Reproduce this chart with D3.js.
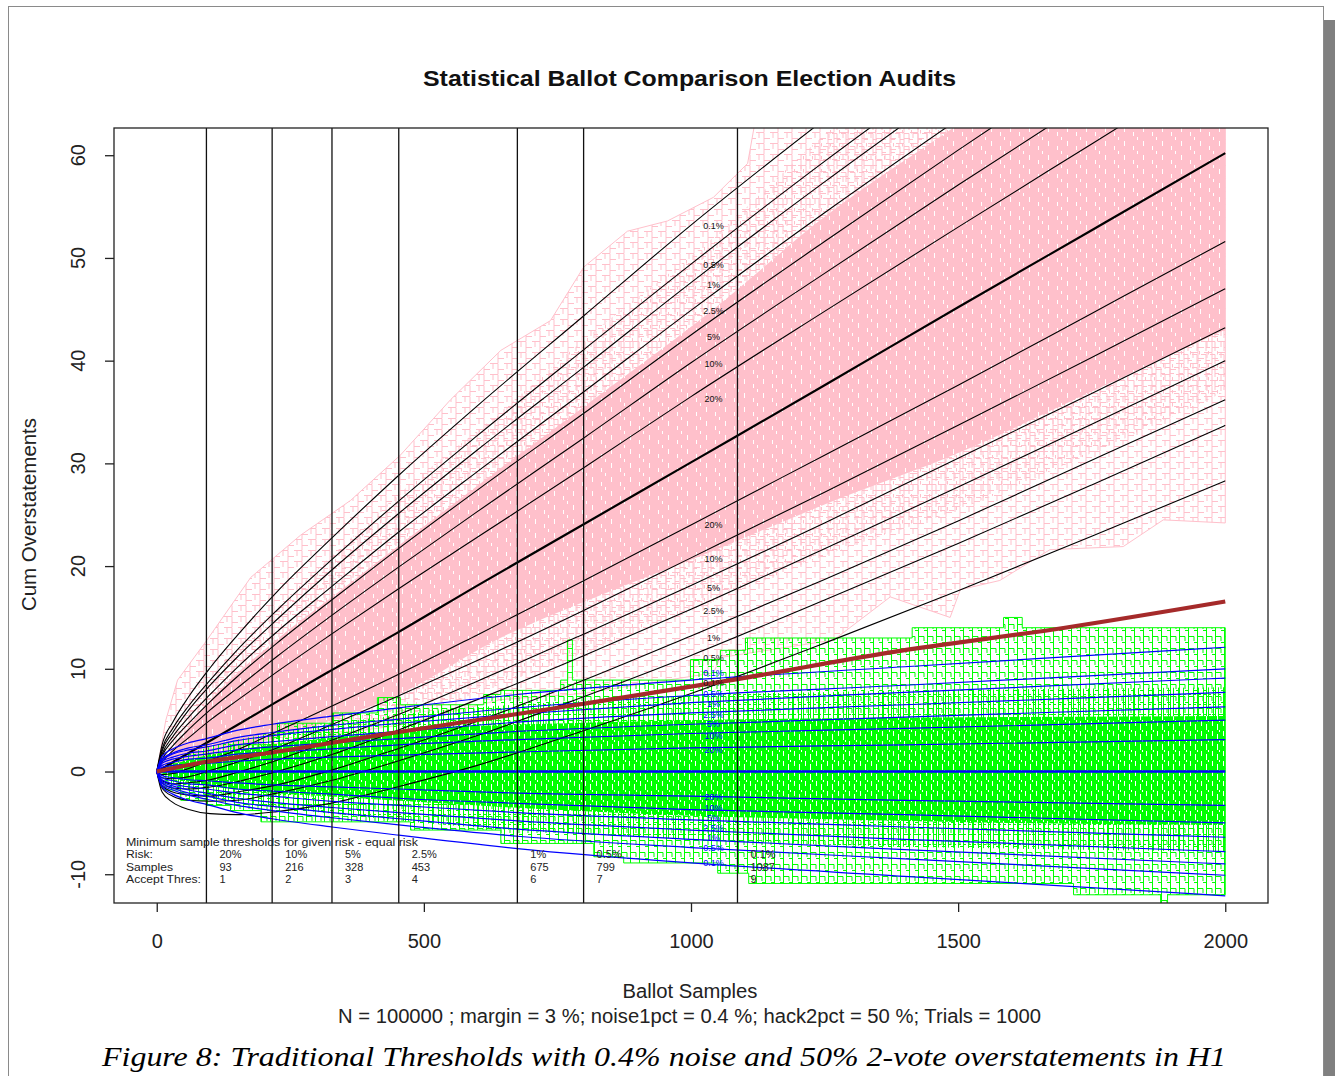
<!DOCTYPE html>
<html>
<head>
<meta charset="utf-8">
<script src="https://cdn.jsdelivr.net/npm/d3@7"></script>
<style>
  body { margin: 0; background: #fff; }
  svg text { font-family: "Liberation Sans", Arial, sans-serif; }
</style>
</head>
<body>
<svg id="chart" width="1335" height="1076"></svg>
<script>
// ---- data ----
const xTicks = [0, 500, 1000, 1500, 2000];
const yTicks = [-10, 0, 10, 20, 30, 40, 50, 60];

// threshold table (equal risk)
const riskLabels = ["20%", "10%", "5%", "2.5%", "1%", "0.5%", "0.1%"];
const sampleCounts = [93, 216, 328, 453, 675, 799, 1087];
const acceptThres = [1, 2, 3, 4, 6, 7, 9];

// H1 quantile curves (black), sampled at qN
const qN = [0, 10, 30, 60, 100, 150, 225, 325, 450, 600, 800, 1000, 1250, 1500, 1750, 2000];
const h1Up01 = [0, 2.6, 4.8, 7.3, 10.1, 13.2, 17.5, 22.6, 28.7, 35.6, 44.4, 53.2, 63.5, 73.4, 83.2, 92.7];
const h1Up05 = [0, 2.2, 4.2, 6.4, 8.9, 11.8, 15.7, 20.5, 26.2, 32.7, 41.1, 49.4, 59.4, 68.9, 78.3, 87.5];
const h1Up1 = [0, 2.0, 3.8, 6.0, 8.4, 11.1, 14.8, 19.5, 25.0, 31.3, 39.4, 47.6, 57.4, 66.8, 76.0, 85.1];
const h1Up25 = [0, 1.7, 3.4, 5.3, 7.5, 10.1, 13.6, 17.9, 23.2, 29.2, 37.0, 44.9, 54.4, 63.5, 72.4, 81.3];
const h1Up5 = [0, 1.5, 3.0, 4.7, 6.8, 9.2, 12.5, 16.6, 21.6, 27.4, 34.9, 42.5, 51.6, 60.5, 69.2, 77.8];
const h1Up10 = [0, 1.2, 2.5, 4.1, 6.0, 8.1, 11.2, 15.1, 19.8, 25.3, 32.5, 39.8, 48.5, 57.1, 65.5, 73.9];
const h1Up20 = [0, 0.9, 2.0, 3.3, 5.0, 6.9, 9.7, 13.3, 17.7, 22.8, 29.6, 36.5, 44.8, 53.0, 61.1, 69.2];
const h1Med = [0, 0.3, 0.9, 1.8, 3.0, 4.5, 6.8, 9.8, 13.5, 18.1, 24.1, 30.1, 37.6, 45.2, 52.7, 60.2];
const h1Lo20 = [0, -0.3, -0.2, 0.3, 1.1, 2.1, 3.9, 6.3, 9.4, 13.3, 18.6, 24.0, 30.8, 37.6, 44.6, 51.6];
const h1Lo10 = [0, -0.6, -0.7, -0.5, 0.1, 0.9, 2.3, 4.5, 7.3, 10.8, 15.7, 20.8, 27.2, 33.7, 40.3, 47.0];
const h1Lo5 = [0, -0.9, -1.2, -1.1, -0.8, -0.1, 1.1, 3.0, 5.5, 8.8, 13.4, 18.1, 24.2, 30.5, 36.8, 43.2];
const h1Lo25 = [0, -1.1, -1.6, -1.7, -1.5, -1.0, 0.0, 1.6, 4.0, 7.0, 11.3, 15.8, 21.7, 27.7, 33.8, 40.0];
const h1Lo1 = [0, -1.4, -2.0, -2.3, -2.4, -2.0, -1.3, 0.1, 2.2, 4.9, 8.9, 13.2, 18.7, 24.4, 30.3, 36.2];
const h1Lo05 = [0, -1.6, -2.4, -2.8, -2.9, -2.8, -2.1, -0.9, 1.0, 3.5, 7.3, 11.3, 16.7, 22.2, 27.9, 33.7];
const h1Lo01 = [0, -2.0, -3.0, -3.7, -4.1, -4.2, -3.9, -3.1, -1.5, 0.6, 4.0, 7.6, 12.5, 17.6, 22.9, 28.3];

// H0 quantile curves (blue), sampled at bN
const bN = [0, 10, 30, 60, 93, 150, 216, 328, 453, 675, 1000, 1400, 2000];
const h0Up01 = [0, 1.5, 2.2, 2.8, 3.2, 4.0, 4.6, 5.4, 6.2, 7.5, 8.9, 10.2, 12.1];
const h0Up05 = [0, 1.2, 1.8, 2.3, 2.6, 3.3, 3.8, 4.5, 5.1, 6.2, 7.4, 8.4, 10.0];
const h0Up1 = [0, 1.1, 1.7, 2.1, 2.4, 3.0, 3.5, 4.1, 4.7, 5.6, 6.7, 7.7, 9.1];
const h0Up25 = [0, 1.0, 1.4, 1.8, 2.0, 2.6, 2.9, 3.4, 3.9, 4.8, 5.7, 6.5, 7.7];
const h0Up5 = [0, 0.8, 1.2, 1.5, 1.7, 2.1, 2.4, 2.8, 3.2, 3.9, 4.6, 5.3, 6.3];
const h0Up10 = [0, 0.6, 0.9, 1.2, 1.3, 1.7, 1.9, 2.2, 2.6, 3.1, 3.7, 4.2, 5.0];
const h0Up20 = [0, 0.4, 0.6, 0.7, 0.8, 1.0, 1.2, 1.4, 1.6, 1.9, 2.3, 2.6, 3.1];
const h0Med = [0, 0, 0, 0, 0, 0, 0, 0, 0, 0, 0, 0, 0];
const h0Lo20 = [0, -0.4, -0.6, -0.8, -0.9, -1.1, -1.3, -1.5, -1.7, -2.1, -2.4, -2.8, -3.3];
const h0Lo10 = [0, -0.6, -0.9, -1.2, -1.3, -1.7, -1.9, -2.2, -2.6, -3.1, -3.7, -4.2, -5.0];
const h0Lo5 = [0, -0.8, -1.2, -1.5, -1.7, -2.1, -2.4, -2.9, -3.3, -4.0, -4.7, -5.4, -6.4];
const h0Lo25 = [0, -1.0, -1.4, -1.8, -2.1, -2.6, -3.0, -3.5, -4.0, -4.8, -5.7, -6.6, -7.8];
const h0Lo1 = [0, -1.1, -1.6, -2.1, -2.4, -3.0, -3.4, -4.0, -4.6, -5.6, -6.6, -7.6, -9.0];
const h0Lo05 = [0, -1.3, -1.8, -2.3, -2.7, -3.3, -3.8, -4.5, -5.2, -6.3, -7.4, -8.5, -10.1];
const h0Lo01 = [0, -1.5, -2.2, -2.8, -3.2, -4.0, -4.6, -5.4, -6.2, -7.5, -8.9, -10.2, -12.1];

// acceptance threshold curve (brown)
const brownN = [0, 93, 216, 328, 453, 675, 799, 1087, 1373, 1700, 2000];
const brownV = [0, 0.95, 1.85, 2.8, 3.85, 5.6, 6.6, 9.0, 11.6, 14.0, 16.55];

// pink (H1 trials): outer envelope, denser middle band, solid core
const pinkTopN = [0, 17, 39, 94, 176, 269, 363, 456, 550, 644, 737, 799, 881, 956, 1042, 1106, 1143, 2000];
const pinkTopV = [0, 5.0, 8.9, 12.8, 18.9, 23.0, 26.4, 30.8, 36.2, 41.0, 43.9, 49.1, 52.6, 53.6, 55.9, 59.2, 70, 70];
const pinkBotN = [0, 45, 94, 217, 329, 453, 550, 644, 799, 956, 1042, 1055, 1267, 1373, 1485, 1504, 1578, 1672, 1809, 1884, 2000];
const pinkBotV = [0, 0.6, 1.6, 2.6, 3.6, 4.5, 5.8, 7.0, 7.6, 8.9, 9.6, 11.1, 12.8, 17.0, 15.0, 17.7, 18.6, 21.6, 21.9, 24.5, 24.2];
const pinkBandN = [0, 93, 216, 328, 453, 643, 799, 1042, 1250, 1500, 1750, 2000];
const pinkMidTop = [0, 8.5, 15.5, 21, 27, 35, 42, 52, 62, 72, 82, 90];
const pinkMidBot = [0, 0.8, 1.8, 3.2, 5.0, 8.5, 11.5, 16.5, 21, 25.5, 31, 37];
const pinkCoreTop = [0, 6.5, 12.5, 17, 22, 29.5, 35.5, 45, 54, 63, 72, 80];
const pinkCoreBot = [0, 1.2, 3.2, 5.0, 7.5, 13, 16.5, 21.5, 26, 31, 37, 43];

// green (H0 trials): outer envelope (steps), middle band, dense core
const greenTopN = [0, 20, 60, 94, 138, 217, 226, 329, 413, 456, 612, 644, 756, 769, 778, 999, 1055, 1102, 1414, 1585, 1620];
const greenTopV = [0, 0.8, 1.0, 1.4, 2.6, 3.3, 4.7, 5.7, 7.2, 6.5, 7.5, 7.9, 8.9, 12.8, 8.9, 10.9, 11.8, 13.0, 14.0, 15.0, 14.0];
const greenBotN = [0, 17, 45, 94, 138, 195, 475, 644, 818, 874, 1050, 1108, 1716, 1879, 1892];
const greenBotV = [0, -1.8, -2.8, -3.3, -3.8, -4.9, -5.7, -7.0, -8.3, -8.9, -9.9, -10.9, -12.0, -13.5, -12.0];
const greenBandN = [0, 50, 100, 200, 350, 500, 700, 1000, 1300, 1600, 2000];
const greenMidTop = [0, 1.5, 2.4, 3.6, 4.8, 5.8, 6.6, 7.4, 7.8, 8.0, 8.2];
const greenMidBot = [0, -1.6, -2.4, -3.3, -4.2, -5.0, -5.8, -6.6, -7.2, -7.5, -7.8];
const greenCoreTop = [0, 1.0, 1.6, 2.5, 3.4, 4.2, 4.6, 5.0, 5.2, 5.3, 5.4];
const greenCoreBot = [0, -0.9, -1.4, -2.0, -2.5, -3.0, -3.6, -4.3, -4.7, -5.0, -5.2];

// quantile labels (placed near n = 1042)
const labelN = 1042;
const tailLabelsUp = ["0.1%", "0.5%", "1%", "2.5%", "5%", "10%", "20%"];
const tailLabelsLo = ["20%", "10%", "5%", "2.5%", "1%", "0.5%", "0.1%"];
const h1UpLabelV = [53.1, 49.3, 47.4, 44.8, 42.3, 39.7, 36.3];
const h1LoLabelV = [24.0, 20.7, 17.9, 15.6, 13.0, 11.1, 8.6];
const h0UpLabelV = [9.6, 7.6, 6.6, 5.55, 4.6, 3.5, 2.1];
const h0LoLabelV = [-2.5, -3.55, -4.5, -5.5, -6.45, -7.45, -8.9];

// ---- drawing ----
const svg = d3.select("#chart");
const x = d3.scaleLinear().domain([-80, 2080]).range([114, 1268]);
const y = d3.scaleLinear().domain([-12.8, 62.65]).range([903, 128]);

// page frame
svg.append("rect").attr("x", 8.5).attr("y", 6.5).attr("width", 1315).attr("height", 1090)
  .attr("fill", "#fff").attr("stroke", "#8a8a8a");
svg.append("rect").attr("x", 1324).attr("y", 20).attr("width", 11).attr("height", 1056).attr("fill", "#808080");

const defs = svg.append("defs");
defs.append("clipPath").attr("id", "plotClip")
  .append("rect").attr("x", 114).attr("y", 128).attr("width", 1154).attr("height", 775);

// textures standing in for the bundles of step-shaped trial paths
function mesh(id, w, h, d, color, dx) {
  const p = defs.append("pattern").attr("id", id)
    .attr("patternUnits", "userSpaceOnUse").attr("width", w).attr("height", h)
    .attr("patternTransform", `translate(${dx},0)`);
  p.append("path").attr("d", d).attr("stroke", color).attr("fill", "none");
}
mesh("pinkMesh", 14, 11, "M0 0.5H8V11 M8 6.5H14 M3 0V6", "#ffc0cb", 0);
mesh("pinkMesh2", 9, 13, "M0 3.5H5V13 M5 9.5H9 M7.5 0V3.5", "#ffc0cb", 4);
mesh("greenMesh", 9, 12, "M0.5 0V12 M0.5 0.5H6V5 M6 6.5H9", "#00ff00", 0);
mesh("greenMesh2", 5, 10, "M2.5 0V10 M2.5 4.5H5", "#00ff00", 1);

function speck(id, w, h, color, marks) {
  const p = defs.append("pattern").attr("id", id)
    .attr("patternUnits", "userSpaceOnUse").attr("width", w).attr("height", h);
  p.append("rect").attr("width", w).attr("height", h).attr("fill", color);
  marks.forEach(r => p.append("rect").attr("x", r[0]).attr("y", r[1])
    .attr("width", r[2]).attr("height", r[3]).attr("fill", "#fff"));
}
speck("pinkSpeck", 19, 14, "#ffc0cb", [[3, 1, 1, 5], [12, 6, 1, 4], [16, 11, 1, 3]]);
speck("greenSpeck", 11, 10, "#00ff00", [[2, 1, 1, 5], [7, 4, 1, 6], [9, 0, 1, 2]]);

const plot = svg.append("g").attr("clip-path", "url(#plotClip)");

const toPx = d3.line().x(d => x(d[0])).y(d => y(d[1]));
const zip = (ns, vs) => ns.map((n, i) => [n, vs[i]]);
function steps(ns, vs, end) {
  const pts = [];
  ns.forEach((n, i) => {
    pts.push([n, vs[i]]);
    pts.push([i < ns.length - 1 ? ns[i + 1] : end, vs[i]]);
  });
  return pts;
}
const band = (ns, top, bot) => d3.area()
  .x((d, i) => x(ns[i])).y0((d, i) => y(bot[i])).y1((d, i) => y(top[i]))
  .curve(d3.curveMonotoneX)(ns);

// pink bundle
const pinkTop = zip(pinkTopN, pinkTopV);
const pinkBot = zip(pinkBotN, pinkBotV);
plot.append("path").attr("d", toPx(pinkTop.concat(pinkBot.slice().reverse())) + "Z")
  .attr("fill", "url(#pinkMesh)").attr("stroke", "#ffc0cb").attr("stroke-width", 1);
plot.append("path").attr("d", band(pinkBandN, pinkMidTop, pinkMidBot)).attr("fill", "url(#pinkMesh2)");
plot.append("path").attr("d", band(pinkBandN, pinkCoreTop, pinkCoreBot)).attr("fill", "url(#pinkSpeck)");

// green bundle
const greenTop = steps(greenTopN, greenTopV, 2000);
const greenBot = steps(greenBotN, greenBotV, 2000);
plot.append("path").attr("d", toPx(greenTop.concat(greenBot.slice().reverse())) + "Z")
  .attr("fill", "url(#greenMesh)").attr("stroke", "#00ff00").attr("stroke-width", 1);
plot.append("path").attr("d", band(greenBandN, greenMidTop, greenMidBot)).attr("fill", "url(#greenMesh2)");
plot.append("path").attr("d", band(greenBandN, greenCoreTop, greenCoreBot)).attr("fill", "url(#greenSpeck)");

// quantile lines
const smooth = d3.line().x(d => x(d[0])).y(d => y(d[1])).curve(d3.curveMonotoneX);
const h1Lines = [h1Up01, h1Up05, h1Up1, h1Up25, h1Up5, h1Up10, h1Up20, h1Med,
  h1Lo20, h1Lo10, h1Lo5, h1Lo25, h1Lo1, h1Lo05, h1Lo01];
h1Lines.forEach(vs => {
  plot.append("path").attr("d", smooth(zip(qN, vs)))
    .attr("fill", "none").attr("stroke", "#000")
    .attr("stroke-width", vs === h1Med ? 2.2 : 1.1);
});

const h0Lines = [h0Up01, h0Up05, h0Up1, h0Up25, h0Up5, h0Up10, h0Up20, h0Med,
  h0Lo20, h0Lo10, h0Lo5, h0Lo25, h0Lo1, h0Lo05, h0Lo01];
h0Lines.forEach(vs => {
  plot.append("path").attr("d", smooth(zip(bN, vs)))
    .attr("fill", "none").attr("stroke", "#0000ff")
    .attr("stroke-width", vs === h0Med ? 2.6 : 1.2);
});

// brown threshold line
plot.append("path").attr("d", smooth(zip(brownN, brownV)))
  .attr("fill", "none").attr("stroke", "#a52a2a").attr("stroke-width", 4.2);

// minimum sample verticals
plot.selectAll(".vline").data(sampleCounts).enter().append("line")
  .attr("x1", d => x(d)).attr("x2", d => x(d))
  .attr("y1", 128).attr("y2", 903)
  .attr("stroke", "#111").attr("stroke-width", 1.3);

// quantile labels
function qLabels(vals, labels, color) {
  plot.append("g").selectAll("text").data(vals).enter().append("text")
    .attr("x", x(labelN)).attr("y", d => y(d)).attr("dy", "0.35em")
    .attr("text-anchor", "middle").attr("font-size", 9).attr("fill", color)
    .text((d, i) => labels[i]);
}
qLabels(h1UpLabelV, tailLabelsUp, "#111");
qLabels(h1LoLabelV, tailLabelsLo, "#111");
qLabels(h0UpLabelV, tailLabelsUp, "#0000ff");
qLabels(h0LoLabelV, tailLabelsLo, "#0000ff");

// threshold table
const tbl = svg.append("g").attr("font-size", 11).attr("fill", "#222");
const rowY = [858, 870.5, 883];
const rowNames = ["Risk:", "Samples", "Accept Thres:"];
const rowNameW = [27, 47, 75];
tbl.append("text").attr("x", 126).attr("y", 845.5)
  .attr("textLength", 292).attr("lengthAdjust", "spacingAndGlyphs")
  .text("Minimum sample thresholds for given risk - equal risk");
rowNames.forEach((t, i) => tbl.append("text").attr("x", 126).attr("y", rowY[i])
  .attr("textLength", rowNameW[i]).attr("lengthAdjust", "spacingAndGlyphs").text(t));
[riskLabels, sampleCounts, acceptThres].forEach((row, r) => {
  tbl.selectAll(null).data(row).enter().append("text")
    .attr("x", (d, i) => x(sampleCounts[i]) + 13).attr("y", rowY[r]).text(d => d);
});

// box
svg.append("rect").attr("x", 114).attr("y", 128).attr("width", 1154).attr("height", 775)
  .attr("fill", "none").attr("stroke", "#222").attr("stroke-width", 1.3);

// axes
const xAxis = svg.append("g").attr("transform", "translate(0,903)")
  .call(d3.axisBottom(x).tickValues(xTicks).tickSize(9).tickPadding(22).tickFormat(d3.format("d")));
xAxis.select(".domain").remove();
xAxis.selectAll("line").attr("stroke", "#222").attr("stroke-width", 1.3);
xAxis.selectAll("text").attr("font-size", 20).attr("fill", "#222")
  .attr("font-family", "Liberation Sans, Arial, sans-serif");

const yAxis = svg.append("g").attr("transform", "translate(114,0)")
  .call(d3.axisLeft(y).tickValues(yTicks).tickSize(9).tickFormat(""));
yAxis.select(".domain").remove();
yAxis.selectAll("line").attr("stroke", "#222").attr("stroke-width", 1.3);
svg.append("g").selectAll("text").data(yTicks).enter().append("text")
  .attr("transform", d => `translate(85,${y(d)}) rotate(-90)`)
  .attr("text-anchor", "middle").attr("font-size", 20).attr("fill", "#222")
  .text(d => d);

// titles
svg.append("text").attr("x", 689.5).attr("y", 86).attr("text-anchor", "middle")
  .attr("font-size", 22).attr("font-weight", "bold").attr("fill", "#111")
  .attr("textLength", 533).attr("lengthAdjust", "spacingAndGlyphs")
  .text("Statistical Ballot Comparison Election Audits");
svg.append("text").attr("x", 690).attr("y", 998).attr("text-anchor", "middle")
  .attr("font-size", 20).attr("fill", "#222")
  .attr("textLength", 135).attr("lengthAdjust", "spacingAndGlyphs")
  .text("Ballot Samples");
svg.append("text").attr("x", 689.5).attr("y", 1023).attr("text-anchor", "middle")
  .attr("font-size", 20).attr("fill", "#222")
  .attr("textLength", 703).attr("lengthAdjust", "spacingAndGlyphs")
  .text("N = 100000 ; margin = 3 %; noise1pct = 0.4 %; hack2pct = 50 %; Trials = 1000");
svg.append("text").attr("transform", "translate(36,514.5) rotate(-90)").attr("text-anchor", "middle")
  .attr("font-size", 20).attr("fill", "#222")
  .attr("textLength", 193).attr("lengthAdjust", "spacingAndGlyphs")
  .text("Cum Overstatements");
svg.append("text").attr("x", 664).attr("y", 1066).attr("text-anchor", "middle")
  .attr("font-size", 28).attr("font-style", "italic").attr("fill", "#000")
  .style("font-family", "'Liberation Serif', 'Times New Roman', serif")
  .attr("textLength", 1124).attr("lengthAdjust", "spacingAndGlyphs")
  .text("Figure 8: Traditional Thresholds with 0.4% noise and 50% 2-vote overstatements in H1");
</script>
</body>
</html>
